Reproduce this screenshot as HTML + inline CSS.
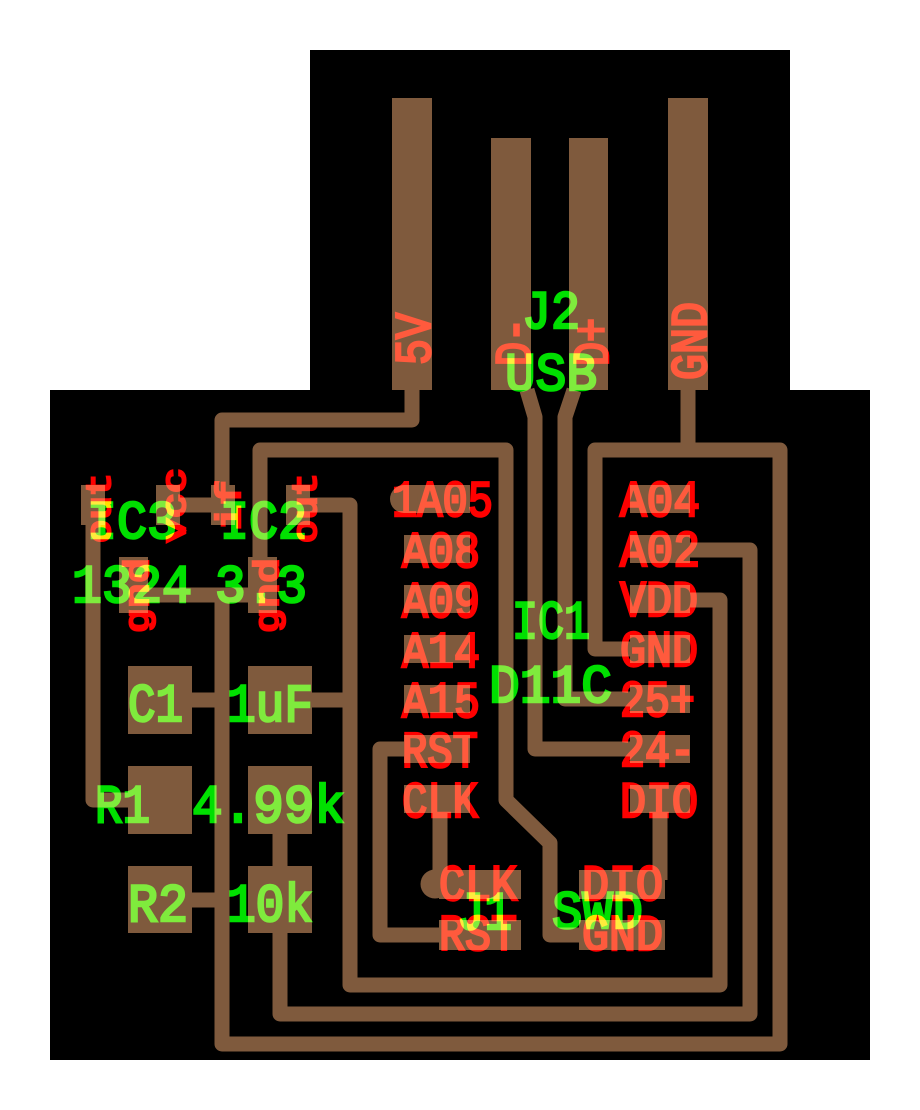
<!DOCTYPE html>
<html><head><meta charset="utf-8"><style>
html,body{margin:0;padding:0;background:#fff;}
svg{display:block;}
text{font-family:"Liberation Mono","DejaVu Sans Mono",monospace;mix-blend-mode:screen;stroke-width:2.6;}
.r{fill:#ff0000;stroke:#ff0000;}
.g{fill:#00e000;stroke:#00e000;}
</style></head><body>
<svg width="920" height="1110" viewBox="0 0 920 1110" xmlns="http://www.w3.org/2000/svg">
<rect x="0" y="0" width="920" height="1110" fill="#fff"/>
<rect x="310" y="50" width="480" height="345" fill="#000"/>
<rect x="50" y="390" width="820" height="670" fill="#000"/>
<g fill="#7f5a3d">
<rect x="392" y="98" width="40" height="292"/>
<rect x="491" y="138" width="40" height="252"/>
<rect x="569" y="138" width="39" height="252"/>
<rect x="668" y="98" width="40" height="292"/>
<rect x="81" y="485" width="24" height="40"/>
<rect x="156" y="485" width="24" height="40"/>
<rect x="211" y="485" width="24" height="40"/>
<rect x="286" y="485" width="24" height="40"/>
<rect x="119" y="557" width="29" height="56"/>
<rect x="248" y="557" width="29" height="56"/>
<rect x="128" y="666" width="64" height="68"/>
<rect x="248" y="666" width="64" height="68"/>
<rect x="128" y="766" width="64" height="68"/>
<rect x="248" y="766" width="64" height="68"/>
<rect x="128" y="866" width="64" height="67"/>
<rect x="248" y="866" width="64" height="67"/>
<rect x="404" y="485" width="66" height="28"/>
<circle cx="404" cy="499" r="14"/>
<rect x="404" y="535" width="66" height="28"/>
<rect x="404" y="585" width="66" height="28"/>
<rect x="404" y="635" width="66" height="28"/>
<rect x="404" y="685" width="66" height="28"/>
<rect x="404" y="735" width="66" height="28"/>
<rect x="404" y="785" width="66" height="28"/>
<rect x="630" y="485" width="60" height="28"/>
<rect x="630" y="535" width="60" height="28"/>
<rect x="630" y="585" width="60" height="28"/>
<rect x="630" y="635" width="60" height="28"/>
<rect x="630" y="685" width="60" height="28"/>
<rect x="630" y="735" width="60" height="28"/>
<rect x="630" y="785" width="60" height="28"/>
<rect x="439" y="870" width="82" height="29"/>
<circle cx="435" cy="884" r="14.5"/>
<rect x="439" y="920" width="82" height="30"/>
<rect x="579" y="870" width="86" height="29"/>
<rect x="579" y="920" width="86" height="30"/>
</g>
<g fill="none" stroke="#7f5a3d" stroke-width="15" stroke-linejoin="round" stroke-linecap="butt">
<polyline points="412,390 412,420 222,420 222,485"/>
<line x1="180" y1="505" x2="211" y2="505"/>
<polyline points="260,557 260,450 506,450 506,800 550,843 550,935 579,935"/>
<polyline points="310,505 350,505 350,985 720,985 720,600 690,600"/>
<line x1="148" y1="595" x2="248" y2="595"/>
<polyline points="222,595 222,1044 780,1044 780,450 595,450 595,649 630,649"/>
<polyline points="688,390 688,450"/>
<polyline points="690,550 750,550 750,1014 280,1014 280,933"/>
<line x1="280" y1="834" x2="280" y2="866"/>
<line x1="192" y1="700" x2="222" y2="700"/>
<line x1="312" y1="700" x2="350" y2="700"/>
<line x1="192" y1="900" x2="222" y2="900"/>
<polyline points="93,525 93,800 128,800"/>
<polyline points="527,390 535,417 535,749 630,749"/>
<polyline points="574,390 565,417 565,699 630,699"/>
<polyline points="440,813 440,880"/>
<polyline points="660,813 660,880"/>
<polyline points="404,749 380,749 380,935 439,935"/>
</g>
<g class="r" font-size="51">
<text x="392" y="516" textLength="101" lengthAdjust="spacingAndGlyphs">1A05</text>
<text x="402" y="567" textLength="78" lengthAdjust="spacingAndGlyphs">A08</text>
<text x="402" y="617" textLength="78" lengthAdjust="spacingAndGlyphs">A09</text>
<text x="402" y="667" textLength="78" lengthAdjust="spacingAndGlyphs">A14</text>
<text x="402" y="717" textLength="78" lengthAdjust="spacingAndGlyphs">A15</text>
<text x="402" y="767" textLength="76" lengthAdjust="spacingAndGlyphs">RST</text>
<text x="402" y="817" textLength="76" lengthAdjust="spacingAndGlyphs">CLK</text>
<text x="620" y="516" textLength="80" lengthAdjust="spacingAndGlyphs">A04</text>
<text x="620" y="566" textLength="80" lengthAdjust="spacingAndGlyphs">A02</text>
<text x="620" y="616" textLength="78" lengthAdjust="spacingAndGlyphs">VDD</text>
<text x="620" y="666" textLength="78" lengthAdjust="spacingAndGlyphs">GND</text>
<text x="620" y="716" textLength="75" lengthAdjust="spacingAndGlyphs">25+</text>
<text x="620" y="766" textLength="75" lengthAdjust="spacingAndGlyphs">24-</text>
<text x="620" y="817" textLength="78" lengthAdjust="spacingAndGlyphs">DIO</text>
<text x="439" y="900" textLength="78" lengthAdjust="spacingAndGlyphs">CLK</text>
<text x="439" y="950" textLength="78" lengthAdjust="spacingAndGlyphs">RST</text>
<text x="582" y="900" textLength="81" lengthAdjust="spacingAndGlyphs">DIO</text>
<text x="582" y="950" textLength="81" lengthAdjust="spacingAndGlyphs">GND</text>
<text transform="translate(430,365) rotate(-90)" textLength="52" lengthAdjust="spacingAndGlyphs">5V</text>
<text transform="translate(530,366) rotate(-90)" textLength="48" lengthAdjust="spacingAndGlyphs">D-</text>
<text transform="translate(608,366) rotate(-90)" textLength="48" lengthAdjust="spacingAndGlyphs">D+</text>
<text transform="translate(706,380) rotate(-90)" textLength="78" lengthAdjust="spacingAndGlyphs">GND</text>
</g>
<g class="r" font-size="34" style="stroke-width:1.8">
<text transform="translate(110,543) rotate(-90)" textLength="70" lengthAdjust="spacingAndGlyphs">out</text>
<text transform="translate(185,543) rotate(-90)" textLength="75" lengthAdjust="spacingAndGlyphs">vcc</text>
<text transform="translate(240,530) rotate(-90)" textLength="50" lengthAdjust="spacingAndGlyphs">if</text>
<text transform="translate(316,543) rotate(-90)" textLength="70" lengthAdjust="spacingAndGlyphs">out</text>
<text transform="translate(148,633) rotate(-90)" textLength="75" lengthAdjust="spacingAndGlyphs">gnd</text>
<text transform="translate(278,633) rotate(-90)" textLength="75" lengthAdjust="spacingAndGlyphs">gnd</text>
</g>
<g class="g" font-size="54">
<text x="522" y="328" textLength="58" lengthAdjust="spacingAndGlyphs">J2</text>
<text x="505" y="390" textLength="92" lengthAdjust="spacingAndGlyphs">USB</text>
<text x="512" y="638" textLength="78" lengthAdjust="spacingAndGlyphs">IC1</text>
<text x="489" y="702" textLength="123" lengthAdjust="spacingAndGlyphs">D11C</text>
<text x="457" y="929" textLength="55" lengthAdjust="spacingAndGlyphs">J1</text>
<text x="552" y="928" textLength="91" lengthAdjust="spacingAndGlyphs">SWD</text>
<text x="87" y="538" textLength="90" lengthAdjust="spacingAndGlyphs">IC3</text>
<text x="220" y="538" textLength="87" lengthAdjust="spacingAndGlyphs">IC2</text>
<text x="72" y="602" textLength="120" lengthAdjust="spacingAndGlyphs">1324</text>
<text x="215" y="602" textLength="92" lengthAdjust="spacingAndGlyphs">3.3</text>
<text x="128" y="721" textLength="55" lengthAdjust="spacingAndGlyphs">C1</text>
<text x="227" y="721" textLength="86" lengthAdjust="spacingAndGlyphs">1uF</text>
<text x="95" y="822" textLength="55" lengthAdjust="spacingAndGlyphs">R1</text>
<text x="192" y="822" textLength="153" lengthAdjust="spacingAndGlyphs">4.99k</text>
<text x="128" y="921" textLength="60" lengthAdjust="spacingAndGlyphs">R2</text>
<text x="227" y="921" textLength="86" lengthAdjust="spacingAndGlyphs">10k</text>
</g>
</svg>
</body></html>
